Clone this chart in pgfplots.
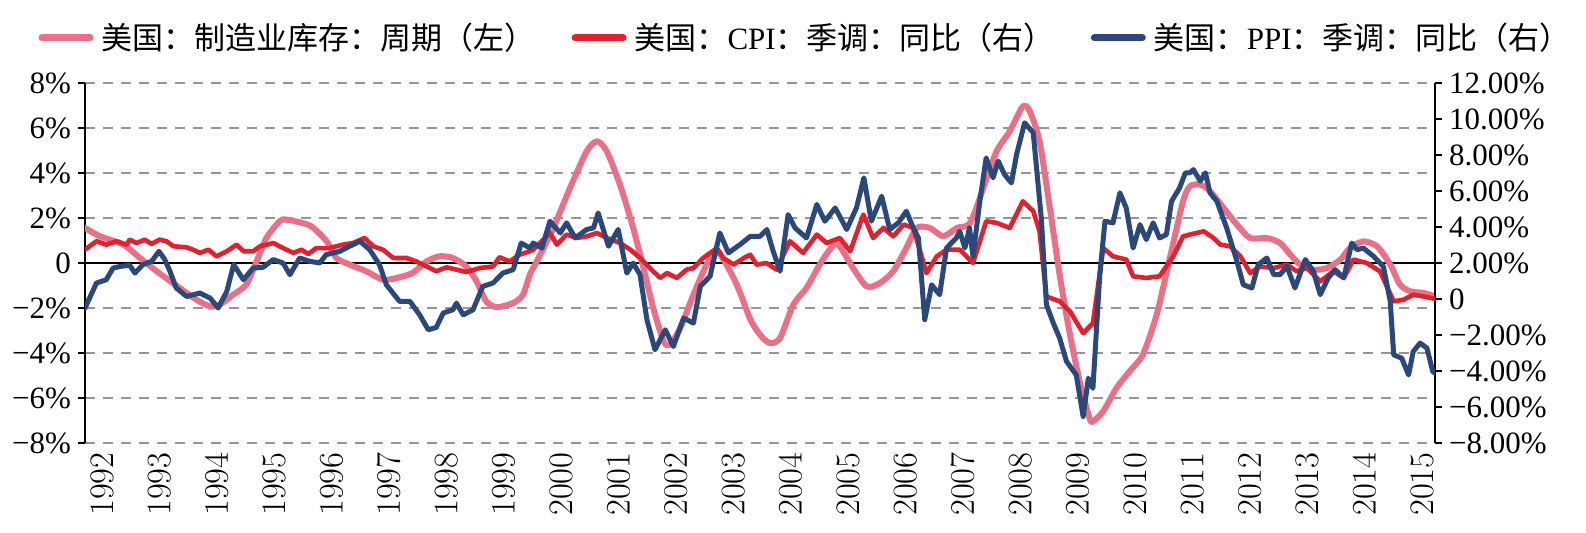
\documentclass[border=0pt]{standalone}
\usepackage{pgfplots}
\pgfplotsset{compat=1.18}
\usepackage{fontspec}
\setmainfont{Liberation Serif}
\newfontfamily\cjk{Noto Sans CJK SC}

\definecolor{invpink}{RGB}{233,112,134}
\definecolor{cpired}{RGB}{226,32,46}
\definecolor{ppiblue}{RGB}{42,72,122}
\definecolor{gridgray}{RGB}{150,150,150}

\begin{document}
\begin{tikzpicture}
\useasboundingbox (-42.5bp,-45bp) rectangle (750.5bp,221.5bp);

\pgfplotsset{
  common/.style={
    scale only axis, width=675bp, height=180bp,
    at={(0,0)}, anchor=south west,
    xmin=1991.81, xmax=2015.33,
    tick align=outside,
    major tick length=3.5bp,
    tick style={black, line width=0.8bp},
    ticklabel style={font=\fontsize{15.5bp}{18bp}\selectfont},
    every axis plot/.append style={line join=round, line cap=round},
  },
}

% inventory cycle, left scale
\begin{axis}[common,
  axis y line*=left,
  axis x line*=bottom,
  x axis line style={draw=none},
  xtick={1992,...,2015},
  xtick style={draw=none},
  xticklabel style={rotate=90, anchor=east, inner sep=1bp, yshift=-3bp,
    font=\fontsize{17bp}{19bp}\selectfont,
    /pgf/number format/1000 sep={}},
  ymin=-8, ymax=8,
  ytick={-8,-6,...,8},
  yticklabels={−8\%,−6\%,−4\%,−2\%,0,2\%,4\%,6\%,8\%},
  y axis line style={black, line width=0.8bp},
  ymajorgrids,
  major grid style={gridgray, dash pattern=on 5bp off 4bp, line width=0.7bp},
]
\draw[black, line width=0.8bp] (axis cs:1991.81,0) -- (axis cs:2015.33,0);
\addplot[invpink, line width=3bp, smooth, tension=0.45] coordinates {
(1991.81,1.56) (1992.07,1.19) (1992.48,0.81) (1992.77,0.22) (1993.06,-0.37)
(1993.46,-1.11) (1993.75,-1.63) (1993.99,-1.93) (1994.16,-1.85) (1994.39,-1.41)
(1994.62,-0.96) (1994.80,0.07) (1994.97,1.11) (1995.20,1.85) (1995.32,1.93)
(1995.73,1.66) (1996.02,0.96) (1996.19,0.22) (1996.42,-0.07) (1996.71,-0.37)
(1997.00,-0.74) (1997.23,-0.67) (1997.52,-0.44) (1997.76,0.07) (1997.99,0.30)
(1998.22,0.22) (1998.45,-0.15) (1998.63,-0.81) (1998.80,-1.70) (1998.98,-1.96)
(1999.27,-1.78) (1999.44,-1.41) (1999.56,-0.52) (1999.68,0.07) (1999.97,1.56)
(2000.26,3.33) (2000.55,4.96) (2000.73,5.41) (2000.90,4.96) (2001.13,3.48)
(2001.36,1.56) (2001.54,-0.22) (2001.71,-2.00) (2001.89,-3.48) (2002.00,-3.63)
(2002.18,-2.89) (2002.41,-1.41) (2002.64,-0.07) (2002.82,0.52) (2003.05,-0.37)
(2003.22,-1.30) (2003.40,-2.50) (2003.57,-3.19) (2003.74,-3.56) (2003.92,-3.33)
(2004.15,-1.85) (2004.38,-1.11) (2004.61,-0.07) (2004.85,0.81) (2004.96,0.74)
(2005.19,-0.22) (2005.43,-1.04) (2005.66,-0.89) (2005.89,-0.37) (2006.12,0.67)
(2006.30,1.56) (2006.53,1.56) (2006.76,1.19) (2007.00,1.56) (2007.23,1.78)
(2007.46,3.33) (2007.69,4.96) (2007.92,5.85) (2008.15,6.96) (2008.27,6.74)
(2008.44,5.41) (2008.62,2.44) (2008.79,-0.52) (2008.97,-3.19) (2009.14,-5.26)
(2009.31,-6.89) (2009.37,-7.04) (2009.55,-6.59) (2009.78,-5.56) (2010.01,-4.81)
(2010.24,-4.07) (2010.48,-2.30) (2010.71,0.22) (2010.94,2.74) (2011.06,3.41)
(2011.24,3.48) (2011.41,3.19) (2011.65,2.44) (2011.88,1.70) (2012.11,1.11)
(2012.40,1.11) (2012.63,0.89) (2012.81,0.37) (2012.98,-0.07) (2013.21,-0.30)
(2013.45,-0.22) (2013.68,0.15) (2013.85,0.67) (2014.08,0.96) (2014.32,0.74)
(2014.55,-0.07) (2014.72,-0.96) (2014.90,-1.26) (2015.13,-1.33) (2015.33,-1.48)
};
\end{axis}

% CPI and PPI, right scale
\begin{axis}[common,
  axis y line*=right,
  axis x line=none,
  ymin=-8, ymax=12,
  ytick={-8,-6,...,12},
  yticklabels={−8.00\%,−6.00\%,−4.00\%,−2.00\%,0,2.00\%,4.00\%,6.00\%,8.00\%,10.00\%,12.00\%},
  y axis line style={black, line width=0.8bp},
  legend columns=3,
  legend cell align=left,
  legend style={at={(0.536,1.125)}, anchor=center, draw=none, fill=none,
    font=\fontsize{15.5bp}{18bp}\selectfont,
    /tikz/every even column/.append style={column sep=14bp},
    nodes={inner xsep=4bp}},
  legend image code/.code={\draw[#1, line width=3.5bp, line cap=round] (0bp,0bp) -- (24bp,0bp);},
]
\addlegendimage{invpink}
\addlegendentry{\cjk 美国：制造业库存：周期（左）}

\addplot[cpired, line width=2.3bp] coordinates {
(1991.81,2.74) (1992.01,3.21) (1992.18,3.02) (1992.36,3.21) (1992.53,3.02)
(1992.59,3.30) (1992.71,3.11) (1992.85,3.30) (1992.97,3.06) (1993.11,3.30)
(1993.23,3.21) (1993.35,2.93) (1993.58,2.87) (1993.69,2.74) (1993.81,2.56)
(1993.96,2.74) (1994.10,2.37) (1994.28,2.65) (1994.45,3.02) (1994.57,2.65)
(1994.74,2.65) (1994.86,2.93) (1995.09,3.11) (1995.26,2.83) (1995.44,2.56)
(1995.58,2.74) (1995.70,2.50) (1995.84,2.83) (1996.07,2.83) (1996.30,3.02)
(1996.48,3.11) (1996.68,3.39) (1996.83,2.93) (1997.00,2.74) (1997.18,2.28)
(1997.41,2.28) (1997.58,2.09) (1997.76,1.81) (1997.93,1.54) (1998.11,1.76)
(1998.28,1.63) (1998.45,1.50) (1998.69,1.72) (1998.92,1.81) (1999.03,2.32)
(1999.21,2.09) (1999.38,2.46) (1999.56,2.65) (1999.62,2.74) (1999.91,3.67)
(2000.03,3.02) (2000.20,3.58) (2000.38,3.39) (2000.55,3.48) (2000.73,3.67)
(2000.90,3.39) (2001.13,3.11) (2001.31,2.74) (2001.48,2.28) (2001.65,1.72)
(2001.83,1.17) (2001.95,1.44) (2002.12,1.17) (2002.29,1.63) (2002.41,1.72)
(2002.58,2.28) (2002.82,2.83) (2002.93,2.28) (2003.11,1.91) (2003.30,2.30)
(2003.40,2.46) (2003.51,1.91) (2003.68,2.00) (2003.86,1.63) (2004.09,3.21)
(2004.32,2.56) (2004.56,3.58) (2004.73,3.11) (2004.96,3.39) (2005.14,2.65)
(2005.37,4.69) (2005.54,3.39) (2005.72,3.95) (2005.89,3.48) (2006.07,4.13)
(2006.24,3.95) (2006.36,2.65) (2006.47,1.44) (2006.65,2.37) (2006.82,2.74)
(2007.05,2.74) (2007.28,2.00) (2007.51,4.32) (2007.69,4.23) (2007.92,3.95)
(2008.15,5.43) (2008.33,4.88) (2008.44,3.76) (2008.56,0.14) (2008.79,-0.13)
(2008.97,-0.69) (2009.20,-1.90) (2009.37,-1.34) (2009.55,2.83) (2009.72,2.37)
(2009.95,2.19) (2010.07,1.26) (2010.30,1.17) (2010.53,1.26) (2010.77,2.37)
(2010.94,3.48) (2011.06,3.58) (2011.30,3.76) (2011.47,3.39) (2011.59,3.02)
(2011.76,2.93) (2011.94,2.37) (2012.11,1.44) (2012.28,1.81) (2012.52,1.72)
(2012.75,1.91) (2012.92,1.54) (2013.10,1.72) (2013.33,0.98) (2013.56,1.54)
(2013.74,1.17) (2013.91,2.19) (2014.14,2.00) (2014.37,1.54) (2014.61,-0.13)
(2014.78,-0.04) (2014.95,0.24) (2015.13,0.14) (2015.33,0.01)
};
\addlegendentry{{\cjk 美国：}CPI{\cjk ：季调：同比（右）}}

\addplot[ppiblue, line width=2.5bp] coordinates {
(1991.81,-0.50) (1992.01,0.89) (1992.18,1.07) (1992.30,1.72) (1992.42,1.81)
(1992.59,1.87) (1992.68,1.44) (1992.82,1.91) (1992.97,2.09) (1993.10,2.65)
(1993.20,2.19) (1993.29,1.54) (1993.40,0.61) (1993.58,0.14) (1993.81,0.33)
(1993.99,0.05) (1994.13,-0.50) (1994.28,0.42) (1994.40,1.91) (1994.57,1.07)
(1994.74,1.72) (1994.91,1.76) (1995.09,2.19) (1995.26,2.00) (1995.38,1.35)
(1995.55,2.28) (1995.73,2.09) (1995.90,2.00) (1996.01,2.46) (1996.25,2.65)
(1996.42,2.93) (1996.60,3.21) (1996.77,2.74) (1996.94,1.91) (1997.06,0.79)
(1997.29,-0.13) (1997.47,-0.13) (1997.64,-0.88) (1997.79,-1.71) (1997.93,-1.58)
(1998.05,-0.78) (1998.22,-0.60) (1998.28,-0.23) (1998.40,-0.88) (1998.57,-0.60)
(1998.74,0.70) (1998.92,0.89) (1999.09,1.44) (1999.27,1.63) (1999.41,3.11)
(1999.56,2.83) (1999.62,3.11) (1999.77,2.83) (1999.91,4.32) (2000.09,3.67)
(2000.20,4.23) (2000.35,3.39) (2000.55,3.86) (2000.67,3.95) (2000.75,4.78)
(2000.93,2.93) (2001.10,3.86) (2001.25,1.44) (2001.36,2.00) (2001.48,1.35)
(2001.60,-1.15) (2001.74,-2.82) (2001.92,-1.71) (2002.06,-2.64) (2002.24,-1.06)
(2002.41,-1.34) (2002.53,0.70) (2002.70,1.26) (2002.87,3.67) (2003.02,2.56)
(2003.22,3.02) (2003.40,3.48) (2003.57,3.48) (2003.69,3.86) (2003.80,2.65)
(2003.92,1.54) (2004.06,4.69) (2004.18,3.95) (2004.38,3.39) (2004.56,5.25)
(2004.70,4.32) (2004.88,5.06) (2005.08,3.86) (2005.25,5.06) (2005.38,6.73)
(2005.51,4.32) (2005.69,5.71) (2005.83,3.86) (2005.98,4.23) (2006.12,4.88)
(2006.24,3.95) (2006.33,3.39) (2006.44,-1.15) (2006.56,0.79) (2006.70,0.24)
(2006.82,2.83) (2006.99,3.39) (2007.05,3.76) (2007.14,2.83) (2007.22,3.95)
(2007.28,2.37) (2007.40,5.43) (2007.51,7.84) (2007.63,6.73) (2007.72,7.66)
(2007.83,6.92) (2007.95,6.45) (2008.04,8.03) (2008.18,9.79) (2008.33,9.24)
(2008.47,4.50) (2008.56,-0.32) (2008.68,-1.34) (2008.79,-2.17) (2008.91,-3.47)
(2009.08,-4.22) (2009.20,-6.53) (2009.29,-4.40) (2009.37,-4.96) (2009.49,1.35)
(2009.58,4.32) (2009.72,4.23) (2009.84,5.90) (2009.95,5.06) (2010.07,2.83)
(2010.19,4.13) (2010.30,3.30) (2010.42,4.23) (2010.53,3.39) (2010.65,3.58)
(2010.74,5.43) (2010.88,6.17) (2010.98,7.01) (2011.06,7.01) (2011.12,7.19)
(2011.24,6.55) (2011.33,7.01) (2011.41,5.90) (2011.53,5.43) (2011.70,3.95)
(2011.88,2.09) (2011.99,0.79) (2012.14,0.61) (2012.25,1.91) (2012.40,2.28)
(2012.52,1.35) (2012.63,1.35) (2012.75,1.81) (2012.89,0.61) (2013.07,2.19)
(2013.21,1.54) (2013.33,0.24) (2013.47,1.17) (2013.59,1.63) (2013.74,1.17)
(2013.88,3.11) (2013.97,2.74) (2014.08,2.83) (2014.26,2.37) (2014.43,1.81)
(2014.55,-0.13) (2014.61,-3.10) (2014.75,-3.29) (2014.87,-4.22) (2014.95,-2.92)
(2015.07,-2.45) (2015.19,-2.73) (2015.29,-4.03) (2015.33,-4.12)
};
\addlegendentry{{\cjk 美国：}PPI{\cjk ：季调：同比（右）}}
\end{axis}
\end{tikzpicture}
\end{document}
